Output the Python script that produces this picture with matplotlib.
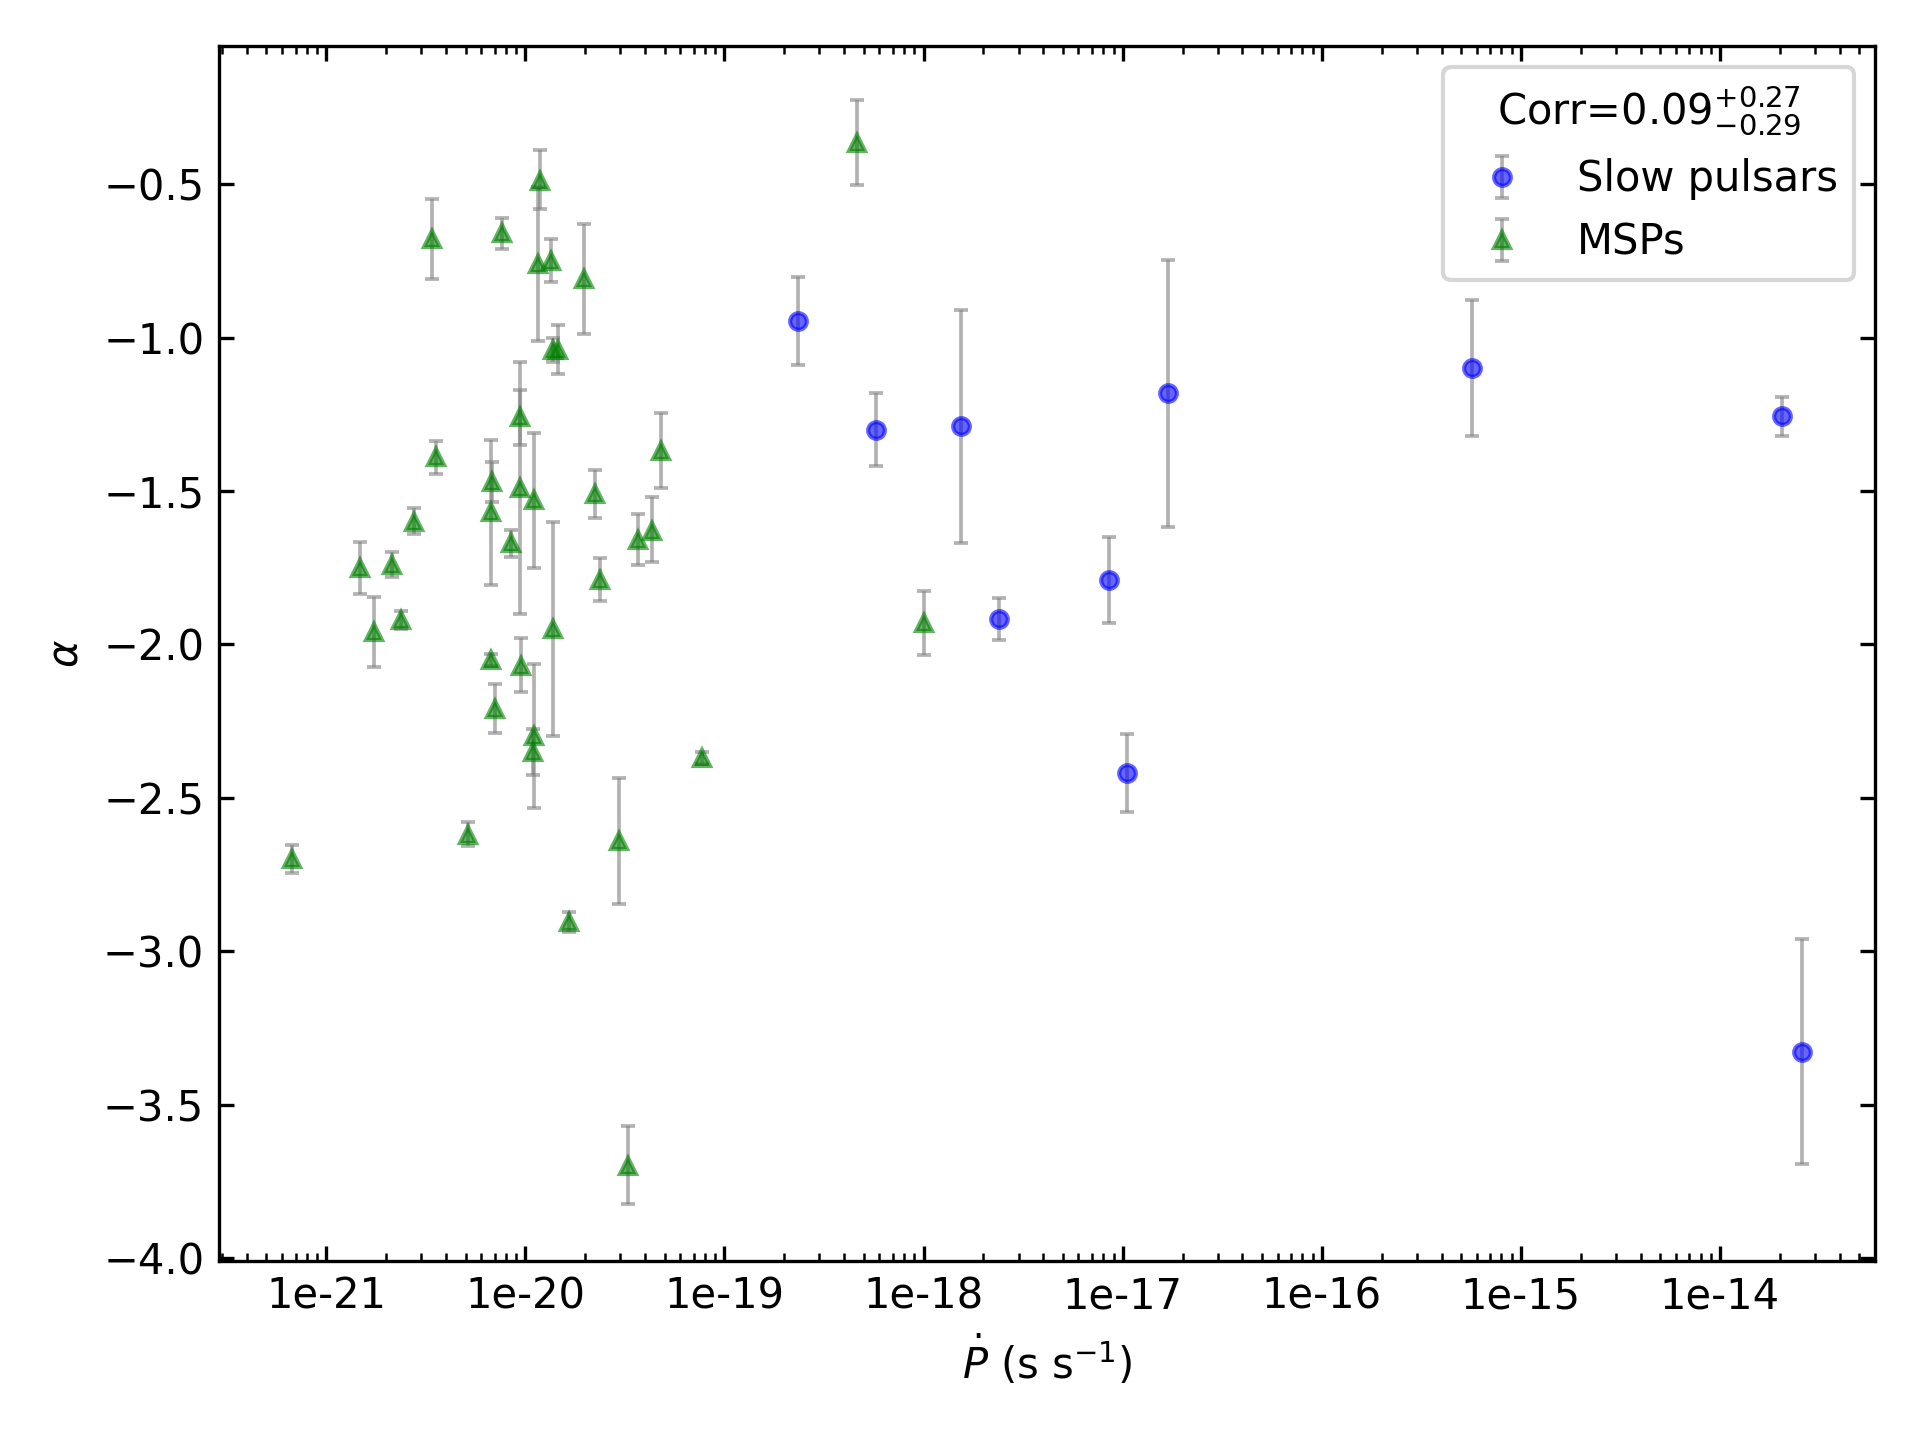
import matplotlib
matplotlib.use("Agg")
import matplotlib.pyplot as plt
from matplotlib.ticker import FormatStrFormatter, NullFormatter

# Slow pulsars: Pdot (s/s), spectral index and its lower / upper errors
slow_pdot = [2.34e-19, 5.77e-19, 1.55e-18, 2.40e-18, 8.59e-18,
             1.05e-17, 1.70e-17, 5.71e-16, 2.05e-14, 2.59e-14]
slow_alpha = [-0.947, -1.300, -1.287, -1.916, -1.790,
              -2.420, -1.182, -1.100, -1.256, -3.330]
slow_err_lo = [0.144, 0.119, 0.383, 0.069, 0.140,
               0.127, 0.436, 0.222, 0.065, 0.365]
slow_err_hi = [0.143, 0.118, 0.378, 0.068, 0.140,
               0.127, 0.434, 0.222, 0.063, 0.370]

# MSPs
msp_pdot = [3.39e-21, 7.59e-21, 1.19e-20, 1.16e-20, 1.35e-20, 1.97e-20,
            1.38e-20, 1.45e-20, 9.38e-21, 9.44e-21, 6.79e-21, 6.75e-21,
            1.11e-20, 2.23e-20, 4.81e-20, 3.54e-21, 2.74e-21, 8.51e-21,
            1.48e-21, 2.14e-21, 2.37e-20, 3.66e-20, 4.32e-20, 1.73e-21,
            2.36e-21, 1.38e-20, 6.70e-21, 9.51e-21, 7.06e-21, 1.11e-20,
            1.09e-20, 6.75e-22, 5.13e-21, 7.73e-20, 2.94e-20, 1.66e-20,
            3.28e-20, 4.61e-19, 1.00e-18]
msp_alpha = [-0.68, -0.66, -0.49, -0.76, -0.75, -0.81,
             -1.04, -1.04, -1.26, -1.49, -1.47, -1.57,
             -1.53, -1.51, -1.37, -1.39, -1.60, -1.67,
             -1.75, -1.74, -1.79, -1.66, -1.63, -1.96,
             -1.92, -1.95, -2.05, -2.07, -2.21, -2.30,
             -2.35, -2.70, -2.62, -2.37, -2.64, -2.905,
             -3.70, -0.365, -1.93]
msp_err_lo = [0.13, 0.05, 0.09, 0.25, 0.07, 0.18,
              0.04, 0.08, 0.09, 0.41, 0.065, 0.235,
              0.22, 0.077, 0.12, 0.054, 0.04, 0.044,
              0.085, 0.04, 0.07, 0.08, 0.10, 0.115,
              0.03, 0.35, 0.02, 0.085, 0.08, 0.235,
              0.075, 0.046, 0.036, 0.02, 0.205, 0.032,
              0.125, 0.138, 0.104]
msp_err_hi = [0.13, 0.05, 0.10, 0.25, 0.07, 0.18,
              0.04, 0.08, 0.09, 0.41, 0.065, 0.235,
              0.22, 0.077, 0.125, 0.054, 0.045, 0.044,
              0.085, 0.04, 0.07, 0.085, 0.11, 0.115,
              0.03, 0.35, 0.02, 0.09, 0.08, 0.235,
              0.075, 0.046, 0.04, 0.02, 0.205, 0.032,
              0.13, 0.14, 0.105]

corr_text = r"Corr=$0.09^{+0.27}_{-0.29}$"
y_ticks = [-4.0, -3.5, -3.0, -2.5, -2.0, -1.5, -1.0, -0.5]

fig = plt.figure(figsize=(6.4, 4.8), dpi=300)
ax = fig.add_subplot(111)
fig.subplots_adjust(left=0.114, right=0.9766, top=0.968, bottom=0.1243)

# Plot both populations with grey error bars
ax.errorbar(slow_pdot, slow_alpha, yerr=[slow_err_lo, slow_err_hi],
            fmt='o', color='blue', alpha=0.6, markersize=4,
            ecolor='gray', elinewidth=0.9, capsize=1.6, capthick=0.9,
            label="Slow pulsars")
ax.errorbar(msp_pdot, msp_alpha, yerr=[msp_err_lo, msp_err_hi],
            fmt='^', color='green', alpha=0.6, markersize=4,
            ecolor='gray', elinewidth=0.9, capsize=1.6, capthick=0.9,
            label="MSPs")

ax.set_xscale('log')
ax.set_xlim(10 ** -21.54, 10 ** -13.22)
ax.set_ylim(-4.01, -0.05)
ax.set_yticks(y_ticks)
ax.xaxis.set_major_formatter(FormatStrFormatter('%.0e'))
ax.xaxis.set_minor_formatter(NullFormatter())
ax.tick_params(which='both', direction='in', top=True, right=True)

ax.set_xlabel(r"$\dot{P}$ (s s$^{-1}$)")
ax.set_ylabel(r"$\alpha$")
ax.legend(title=corr_text, loc='upper right')

fig.savefig("out.png", dpi=300)
